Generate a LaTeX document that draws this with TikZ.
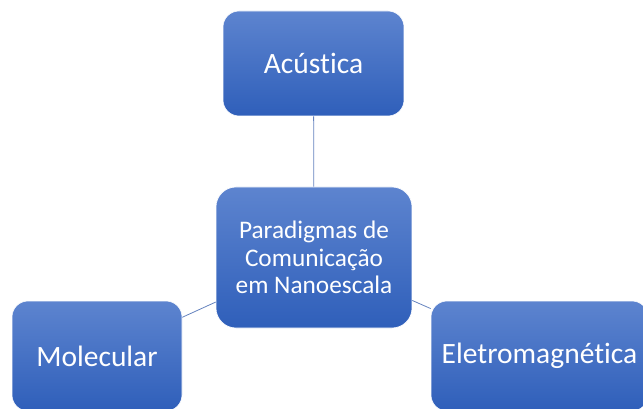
\documentclass[tikz,border=0pt]{standalone}
\usepackage{fontspec}
\setmainfont{Carlito}[Ligatures={NoCommon}]
\definecolor{boxtop}{RGB}{93,132,207}
\definecolor{boxbot}{RGB}{47,95,186}
\definecolor{linkc}{RGB}{100,130,190}
\tikzset{
  card/.style={rectangle, inner sep=0pt, top color=boxtop, bottom color=boxbot, draw=white, line width=0.6pt, text=white, align=center},
  link/.style={draw=linkc, line width=0.8pt}
}
\begin{document}
\begin{tikzpicture}[x=1pt,y=-1pt]
\useasboundingbox (0,0) rectangle (643,409);
\clip (0,0) rectangle (643,409);
\node[card, rounded corners=20pt, minimum width=196pt, minimum height=141pt, font=\fontsize{25.3}{27.5}\selectfont] (c) at (314,257.5) {Paradigmas de\\Comunicação\\em Nanoescala};
\node[card, rounded corners=16pt, minimum width=181pt, minimum height=105pt, font=\fontsize{29.5}{33}\selectfont] (a) at (313.5,63.5) {Acústica};
\node[card, rounded corners=16pt, minimum width=170pt, minimum height=110pt, font=\fontsize{29.5}{33}\selectfont] (m) at (97,356) {Molecular};
\node[card, rounded corners=16pt, minimum width=217pt, minimum height=110pt, font=\fontsize{29.5}{33}\selectfont] (e) at (539.5,356) {Eletromagnética};
\draw[link] (c) -- (a);
\draw[link] (c) -- (m);
\draw[link] (c) -- (e);
\end{tikzpicture}
\end{document}
